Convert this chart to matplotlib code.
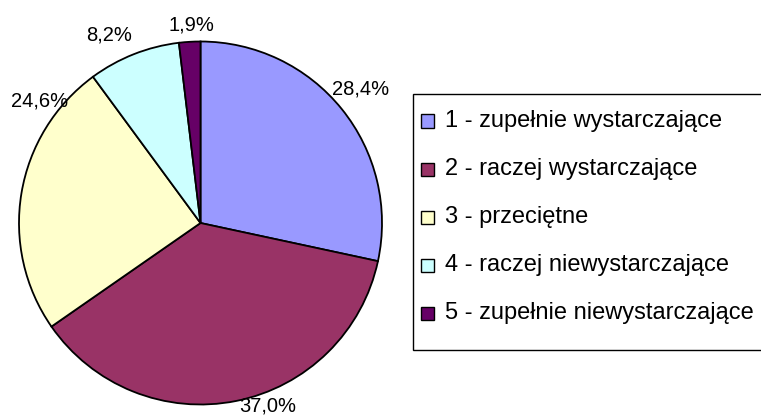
import matplotlib
matplotlib.use('Agg')
import matplotlib.pyplot as plt
from matplotlib.patches import Rectangle
import numpy as np

# data
categories = ['1 - zupełnie wystarczające',
              '2 - raczej wystarczające',
              '3 - przeciętne',
              '4 - raczej niewystarczające',
              '5 - zupełnie niewystarczające']
values = [28.4, 37.0, 24.6, 8.2, 1.9]
value_labels = ['28,4%', '37,0%', '24,6%', '8,2%', '1,9%']
colors = ['#9999FF', '#993366', '#FFFFCC', '#CCFFFF', '#660066']

# label placement (angle in degrees, distance in radii) - as Excel put them
label_pos = [(39.9, 1.15), (-69.9, 1.075), (142.9, 1.115), (116.0, 1.15), (92.5, 1.09)]

W, H = 761, 417
plt.rcParams['font.family'] = ['Liberation Sans', 'DejaVu Sans']

fig = plt.figure(figsize=(W / 100, H / 100), dpi=100)

def px(x, y):
    # pixel coords (from top-left) -> figure fraction
    return x / W, 1 - y / H

# pie axes: centre (200.5, 223), radius 181.5 px
cx, cy, R = 200.5, 223.0, 181.5
ax = fig.add_axes([(cx - R) / W, 1 - (cy + R) / H, 2 * R / W, 2 * R / H])
ax.pie(values, colors=colors, startangle=90, counterclock=False,
       wedgeprops=dict(edgecolor='black', linewidth=1.3))
ax.set_xlim(-1, 1)
ax.set_ylim(-1, 1)
ax.set_aspect('equal')
ax.axis('off')

for lab, (ang, d) in zip(value_labels, label_pos):
    a = np.deg2rad(ang)
    ax.text(d * np.cos(a), d * np.sin(a), lab, ha='center', va='center',
            fontsize=14.5, clip_on=False)

# legend box
x0, y0 = px(413, 350)
x1, y1 = px(800, 94)
fig.patches.append(Rectangle((x0, y0), x1 - x0, y1 - y0, transform=fig.transFigure,
                             facecolor='white', edgecolor='black', linewidth=1.0))
row_y = [121, 169, 217, 265, 313]
for name, col, ry in zip(categories, colors, row_y):
    mx, my = px(421, ry + 6.5)
    fig.patches.append(Rectangle((mx, my), 13 / W, 13 / H, transform=fig.transFigure,
                                 facecolor=col, edgecolor='black', linewidth=1.0))
    tx, ty = px(445, ry)
    fig.text(tx, ty, name, ha='left', va='center', fontsize=17)

fig.savefig('out.png', dpi=100)
